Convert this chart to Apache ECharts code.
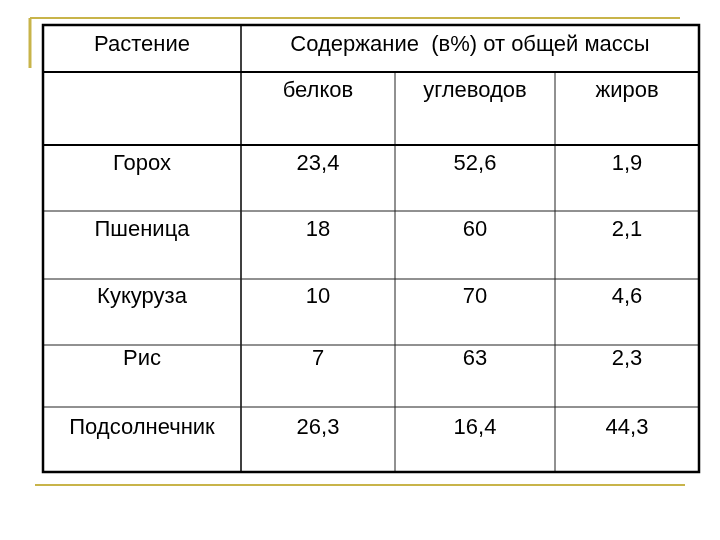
<!DOCTYPE html>
<html>
<head>
<meta charset="utf-8">
<script src="https://cdn.jsdelivr.net/npm/echarts@6/dist/echarts.min.js"></script>
<style>html,body{margin:0;background:#fff}#chart{width:720px;height:540px}</style>
</head>
<body>
<div id="chart"></div>
<script>
// данные таблицы
const plants = ['Горох', 'Пшеница', 'Кукуруза', 'Рис', 'Подсолнечник'];
const proteins = ['23,4', '18', '10', '7', '26,3'];
const carbs = ['52,6', '60', '70', '63', '16,4'];
const fats = ['1,9', '2,1', '4,6', '2,3', '44,3'];
const headTitle = 'Растение';
const headGroup = 'Содержание  (в%) от общей массы';
const subHeads = ['белков', 'углеводов', 'жиров'];

// геометрия
const colX = [43, 241, 395, 555, 699];
const rowY = [25, 72, 145, 211, 279, 345, 407, 472];
const font = '22px "Liberation Sans", Arial, sans-serif';

let els = [];

function line (x1, y1, x2, y2, w, color) {
    els.push({ type: 'line', shape: { x1, y1, x2, y2 }, style: { stroke: color || '#000', lineWidth: w } });
}
function text (str, cx, y) {
    els.push({ type: 'text', x: cx, y, style: { text: str, font, fill: '#000', align: 'center', verticalAlign: 'middle' } });
}

// декоративные жёлтые линии
line(30, 18, 680, 18, 2, '#c8b44a');
line(30, 18, 30, 68, 3, '#c8b44a');
line(35, 485, 685, 485, 2, '#c8b44a');

// внутренние линии
for (let i = 2; i < 4; i++) line(colX[i], rowY[1], colX[i], rowY[7], 1, '#222');
line(colX[1], rowY[0], colX[1], rowY[7], 1.5);
line(colX[0], rowY[1], colX[4], rowY[1], 2);
line(colX[0], rowY[2], colX[4], rowY[2], 2);
for (let i = 3; i < 7; i++) line(colX[0], rowY[i], colX[4], rowY[i], 1, '#222');

// рамка
els.push({ type: 'rect', shape: { x: colX[0], y: rowY[0], width: colX[4] - colX[0], height: rowY[7] - rowY[0] }, style: { fill: null, stroke: '#000', lineWidth: 2.5 } });

// заголовки
text(headTitle, 142, 45);
text(headGroup, 470, 45);
const mid = [318, 475, 627];
subHeads.forEach((s, i) => text(s, mid[i], 91));

// строки
const textY = [164, 230, 297, 359, 428];
plants.forEach((p, i) => {
    text(p, 142, textY[i]);
    text(proteins[i], mid[0], textY[i]);
    text(carbs[i], mid[1], textY[i]);
    text(fats[i], mid[2], textY[i]);
});

const chart = echarts.init(document.getElementById('chart'));
chart.setOption({ animation: false, graphic: { elements: els } });
</script>
</body>
</html>
